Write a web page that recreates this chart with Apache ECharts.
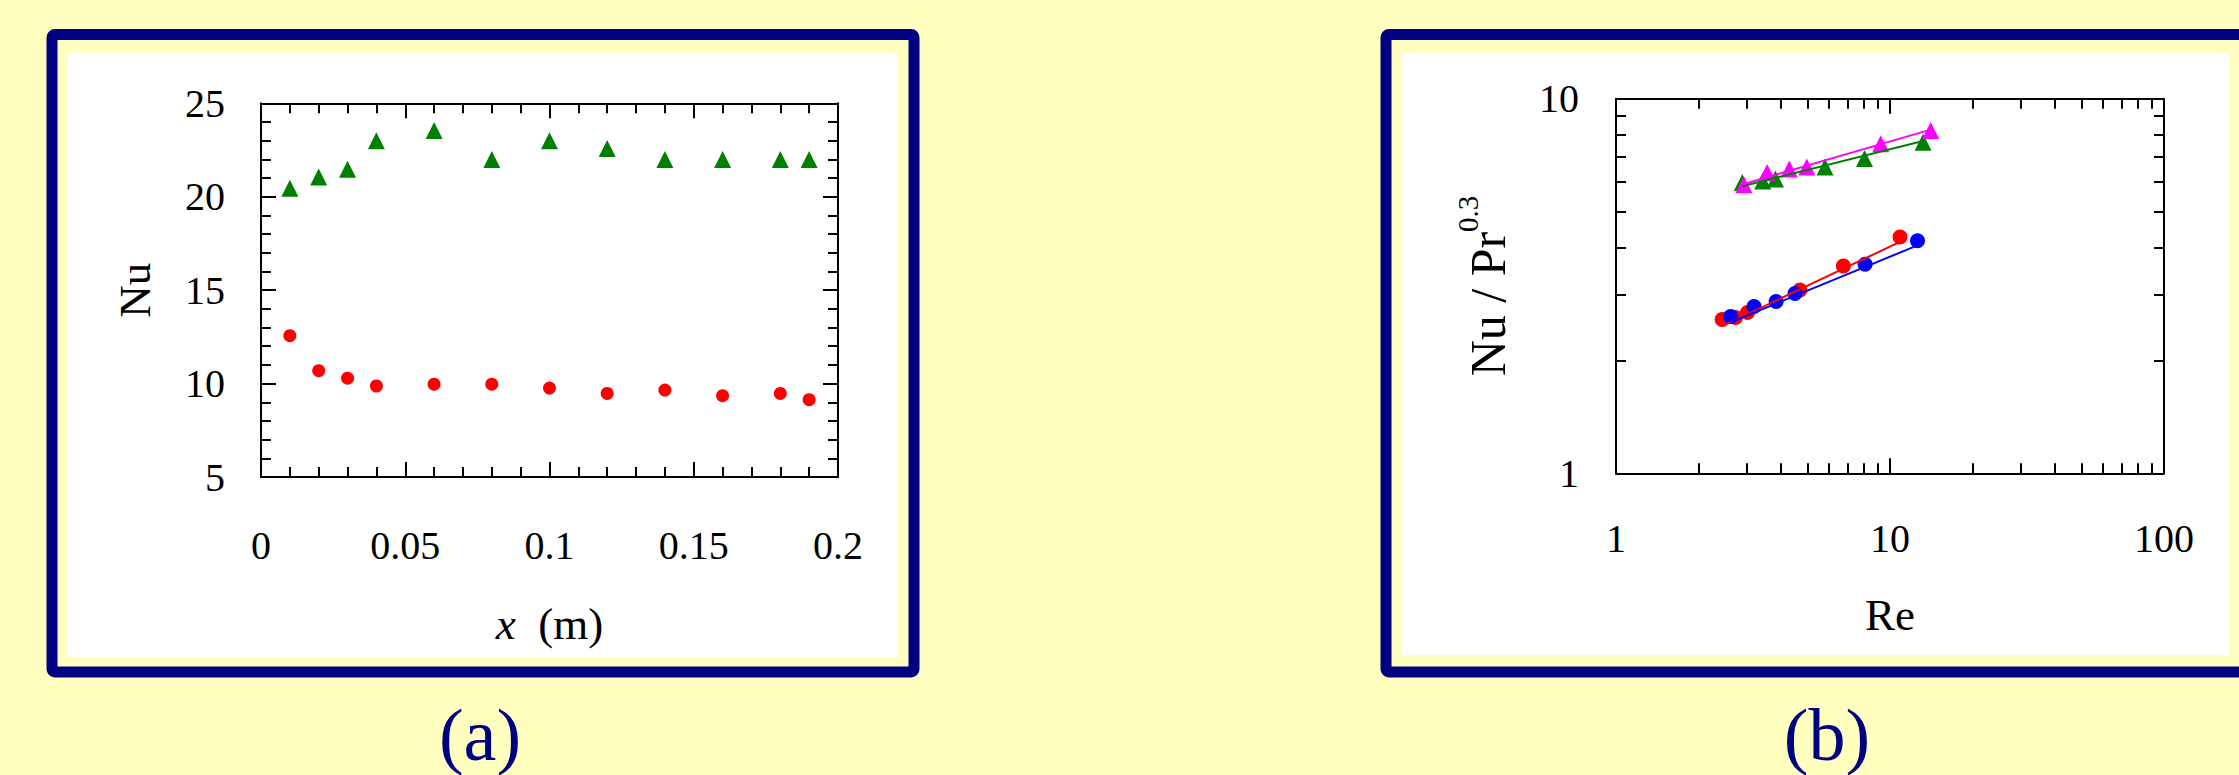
<!DOCTYPE html>
<html>
<head>
<meta charset="utf-8">
<script src="https://cdn.jsdelivr.net/npm/echarts@6/dist/echarts.min.js"></script>
<style>
html,body{margin:0;padding:0;background:#FFFFC0;}
#chart{width:2239px;height:775px;}
</style>
</head>
<body>
<div id="chart"></div>
<script>
// ---------- Panel (a): Nu vs x ----------
const xPos = [0.01, 0.02, 0.03, 0.04, 0.06, 0.08, 0.10, 0.12, 0.14, 0.16, 0.18, 0.19];
const nuTriangle = [20.45, 21.06, 21.47, 23.0, 23.54, 21.99, 23.0, 22.58, 21.99, 21.99, 21.99, 21.99];
const nuCircle = [12.56, 10.69, 10.29, 9.87, 9.97, 9.97, 9.76, 9.47, 9.65, 9.35, 9.47, 9.14];

// ---------- Panel (b): Nu/Pr^0.3 vs Re (log-log) ----------
const reRed = [2.44, 2.73, 3.02, 4.69, 6.76, 10.88];
const nuRed = [2.574, 2.606, 2.687, 3.085, 3.577, 4.274];
const reBlue = [2.62, 3.19, 3.84, 4.50, 8.11, 12.60];
const nuBlue = [2.623, 2.786, 2.873, 3.02, 3.612, 4.178];
const reGreen = [2.89, 3.43, 3.82, 5.79, 8.07, 13.2];
const nuGreen = [5.97, 6.03, 6.10, 6.57, 6.92, 7.65];
const reMagenta = [2.93, 3.56, 4.29, 4.97, 9.25, 14.08];
const nuMagenta = [5.89, 6.35, 6.49, 6.57, 7.58, 8.23];
// fitted power-law lines (end points)
const fitRedRe = [2.44, 10.88], fitRedNu = [2.47, 4.15];
const fitBlueRe = [2.62, 12.6], fitBlueNu = [2.53, 4.06];
const fitGreenRe = [2.89, 13.2], fitGreenNu = [5.84, 7.71];
const fitMagentaRe = [2.93, 14.08], fitMagentaNu = [5.92, 8.27];

// tick values
const reMinorTicks = [2,3,4,5,6,7,8,9,20,30,40,50,60,70,80,90];
const reMajorTicks = [10];
const nuMinorTicks = [2,3,4,5,6,7,8,9];

const zip = (a, b) => a.map((v, i) => [v, b[i]]);

const FONT = "'Liberation Serif', 'Times New Roman', serif";
const BLACK = '#000';
const lineS = {color: BLACK, width: 2};

function linAxis(extra) {
  return Object.assign({
    type: 'value',
    axisLine: {show: true, onZero: false, lineStyle: lineS},
    axisTick: {show: true, inside: true, length: 15, lineStyle: lineS},
    minorTick: {show: true, splitNumber: 5, length: 10, lineStyle: lineS},
    splitLine: {show: false},
    minorSplitLine: {show: false},
    axisLabel: {show: false, fontSize: 40, fontFamily: FONT, color: BLACK}
  }, extra);
}
function logAxis(extra) {
  return Object.assign({
    type: 'log',
    logBase: 10,
    axisLine: {show: true, onZero: false, lineStyle: lineS},
    splitLine: {show: false},
    axisLabel: {show: false, fontSize: 40, fontFamily: FONT, color: BLACK}
  }, extra);
}

const chart = echarts.init(document.getElementById('chart'), null, {renderer: 'svg'});

const option = {
  backgroundColor: '#FFFFC0',
  animation: false,
  textStyle: {fontFamily: FONT},
  graphic: [
    {type: 'rect', z: -10, shape: {x: 68, y: 53, width: 829, height: 604}, style: {fill: '#FFFFFF'}},
    {type: 'rect', z: -10, shape: {x: 52, y: 34.5, width: 862, height: 637.5, r: 3}, style: {fill: 'none', stroke: '#000080', lineWidth: 11, lineJoin: 'round'}},
    {type: 'rect', z: -10, shape: {x: 1402, y: 53, width: 827, height: 602}, style: {fill: '#FFFFFF'}},
    {type: 'rect', z: -10, shape: {x: 1386, y: 34.5, width: 870, height: 637.5, r: 3}, style: {fill: 'none', stroke: '#000080', lineWidth: 11, lineJoin: 'round'}},
    {type: 'text', x: 480, y: 735, style: {text: '(a)', font: "74px 'Liberation Serif', serif", fontSize: 74, fontFamily: FONT, fill: '#000080', align: 'center', verticalAlign: 'middle'}},
    {type: 'text', x: 1827, y: 735, style: {text: '(b)', font: "74px 'Liberation Serif', serif", fontSize: 74, fontFamily: FONT, fill: '#000080', align: 'center', verticalAlign: 'middle'}}
  ],
  grid: [
    {left: 261, top: 103.3, width: 577, height: 373.7, show: false},
    {left: 1616, top: 98.7, width: 548, height: 374.6, show: false}
  ],
  xAxis: [
    linAxis({gridIndex: 0, position: 'bottom', min: 0, max: 0.2, interval: 0.05,
      axisLabel: {show: true, margin: 48, fontSize: 40, fontFamily: FONT, color: BLACK},
      name: '{it|x}  (m)', nameLocation: 'middle', nameGap: 124,
      nameTextStyle: {fontSize: 45, fontFamily: FONT, color: BLACK,
        rich: {it: {fontSize: 45, fontFamily: FONT, fontStyle: 'italic', color: BLACK}}}}),
    linAxis({gridIndex: 0, position: 'top', min: 0, max: 0.2, interval: 0.05}),
    logAxis({gridIndex: 1, position: 'bottom', min: 1, max: 100,
      axisTick: {show: true, inside: true, length: 10, lineStyle: lineS, customValues: reMinorTicks},
      axisLabel: {show: true, margin: 45, fontSize: 40, fontFamily: FONT, color: BLACK},
      name: 'Re', nameLocation: 'middle', nameGap: 119,
      nameTextStyle: {fontSize: 45, fontFamily: FONT, color: BLACK}}),
    logAxis({gridIndex: 1, position: 'bottom', min: 1, max: 100, axisLine: {show: false},
      axisTick: {show: true, inside: true, length: 15, lineStyle: lineS, customValues: reMajorTicks}}),
    logAxis({gridIndex: 1, position: 'top', min: 1, max: 100,
      axisTick: {show: true, inside: true, length: 10, lineStyle: lineS, customValues: reMinorTicks}}),
    logAxis({gridIndex: 1, position: 'top', min: 1, max: 100, axisLine: {show: false},
      axisTick: {show: true, inside: true, length: 15, lineStyle: lineS, customValues: reMajorTicks}})
  ],
  yAxis: [
    linAxis({gridIndex: 0, position: 'left', min: 5, max: 25, interval: 5,
      axisLabel: {show: true, margin: 36, fontSize: 40, fontFamily: FONT, color: BLACK},
      name: 'Nu', nameLocation: 'middle', nameGap: 104, nameRotate: 90,
      nameTextStyle: {fontSize: 45, fontFamily: FONT, color: BLACK}}),
    linAxis({gridIndex: 0, position: 'right', min: 5, max: 25, interval: 5}),
    logAxis({gridIndex: 1, position: 'left', min: 1, max: 10,
      axisTick: {show: true, inside: true, length: 10, lineStyle: lineS, customValues: nuMinorTicks},
      axisLabel: {show: true, margin: 37, fontSize: 40, fontFamily: FONT, color: BLACK},
      name: 'Nu / Pr{sup|0.3}', nameLocation: 'middle', nameGap: 93, nameRotate: 90,
      nameTextStyle: {fontSize: 50, lineHeight: 70, fontFamily: FONT, color: BLACK,
        rich: {sup: {fontSize: 29, lineHeight: 29, verticalAlign: 'top', fontFamily: FONT, color: BLACK}}}}),
    logAxis({gridIndex: 1, position: 'right', min: 1, max: 10,
      axisTick: {show: true, inside: true, length: 10, lineStyle: lineS, customValues: nuMinorTicks}})
  ],
  series: [
    {type: 'scatter', xAxisIndex: 0, yAxisIndex: 0, symbol: 'triangle', symbolSize: 17,
      itemStyle: {color: '#008000', opacity: 1}, data: zip(xPos, nuTriangle)},
    {type: 'scatter', xAxisIndex: 0, yAxisIndex: 0, symbol: 'circle', symbolSize: 13,
      itemStyle: {color: '#FF0000', opacity: 1}, data: zip(xPos, nuCircle)},

    {type: 'line', xAxisIndex: 2, yAxisIndex: 2, symbol: 'none', lineStyle: {color: '#008000', width: 2}, data: zip(fitGreenRe, fitGreenNu)},
    {type: 'line', xAxisIndex: 2, yAxisIndex: 2, symbol: 'none', lineStyle: {color: '#FF00FF', width: 2}, data: zip(fitMagentaRe, fitMagentaNu)},
    {type: 'line', xAxisIndex: 2, yAxisIndex: 2, symbol: 'none', lineStyle: {color: '#FF0000', width: 2}, data: zip(fitRedRe, fitRedNu)},
    {type: 'line', xAxisIndex: 2, yAxisIndex: 2, symbol: 'none', lineStyle: {color: '#0000FF', width: 2}, data: zip(fitBlueRe, fitBlueNu)},

    {type: 'scatter', xAxisIndex: 2, yAxisIndex: 2, symbol: 'triangle', symbolSize: 17,
      itemStyle: {color: '#008000', opacity: 1}, data: zip(reGreen, nuGreen)},
    {type: 'scatter', xAxisIndex: 2, yAxisIndex: 2, symbol: 'triangle', symbolSize: 17,
      itemStyle: {color: '#FF00FF', opacity: 1}, data: zip(reMagenta, nuMagenta)},
    {type: 'scatter', xAxisIndex: 2, yAxisIndex: 2, symbol: 'circle', symbolSize: 15,
      itemStyle: {color: '#FF0000', opacity: 1}, data: zip(reRed, nuRed)},
    {type: 'scatter', xAxisIndex: 2, yAxisIndex: 2, symbol: 'circle', symbolSize: 15,
      itemStyle: {color: '#0000FF', opacity: 1}, data: zip(reBlue, nuBlue)}
  ]
};
chart.setOption(option);
</script>
</body>
</html>
